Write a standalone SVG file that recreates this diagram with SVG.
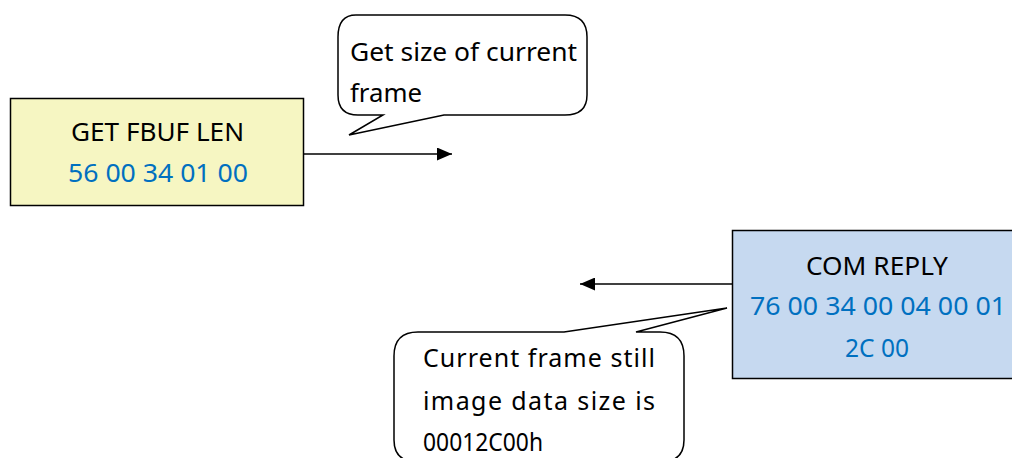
<svg xmlns="http://www.w3.org/2000/svg" width="1012" height="458" viewBox="0 0 1012 458">
<style>
.t{font-family:"Noto Sans","Open Sans","Liberation Sans",sans-serif;font-size:25px;fill:#000}
.b{fill:#0070c0}
.box{stroke:#000;stroke-width:1.5}
.call{fill:#fff;stroke:#000;stroke-width:1.5}
.ln{stroke:#000;stroke-width:1.5;fill:none}
</style>
<defs>
<marker id="ah" markerWidth="15" markerHeight="13" refX="15" refY="6.5" orient="auto" markerUnits="userSpaceOnUse" viewBox="0 0 15 13">
<path d="M0,0 L15,6.5 L0,13 Z" fill="#000"/>
</marker>
<clipPath id="c1"><rect x="335" y="10" width="260" height="94"/></clipPath>
</defs>
<rect width="1012" height="458" fill="#fff"/>
<g id="connectors">
<line class="ln" x1="304" y1="154" x2="452" y2="154" marker-end="url(#ah)"/>
<line class="ln" x1="732" y1="284" x2="580" y2="284" marker-end="url(#ah)"/>
</g>
<g id="get-fbuf-len">
<rect class="box" x="10.5" y="98.5" width="293" height="107" fill="#f6f6c2"/>
<text class="t" x="157.5" y="141" text-anchor="middle" textLength="173" lengthAdjust="spacingAndGlyphs">GET FBUF LEN</text>
<text class="t b" x="158" y="182" text-anchor="middle" textLength="180" lengthAdjust="spacingAndGlyphs">56 00 34 01 00</text>
</g>
<g id="callout-top">
<path class="call" d="M356,15 L565,15 Q587,15 587,37 L587,95 Q587,115 565,115 L444,115 L349,135 L383,115 L358,115 Q338,115 338,95 L338,37 Q338,15 356,15 Z"/>
<g clip-path="url(#c1)">
<text class="t" x="350" y="61" textLength="227" lengthAdjust="spacingAndGlyphs">Get size of current</text>
<text class="t" x="350" y="102" textLength="72" lengthAdjust="spacingAndGlyphs">frame</text>
</g>
</g>
<g id="com-reply">
<rect class="box" x="732.5" y="230.5" width="290" height="148" fill="#c6d9f0"/>
<text class="t" x="877" y="275" text-anchor="middle" textLength="142" lengthAdjust="spacingAndGlyphs">COM REPLY</text>
<text class="t b" x="878" y="315" text-anchor="middle" textLength="256" lengthAdjust="spacingAndGlyphs">76 00 34 00 04 00 01</text>
<text class="t b" x="877" y="357" text-anchor="middle" textLength="64" lengthAdjust="spacingAndGlyphs">2C 00</text>
</g>
<g id="callout-bottom">
<path class="call" d="M418,332 L564,332 L727,308 L636,332 L660,332 Q684,332 684,356 L684,440 Q684,462 660,462 L418,462 Q394,462 394,440 L394,356 Q394,332 418,332 Z"/>
<text class="t" x="423" y="367" textLength="232" lengthAdjust="spacing">Current frame still</text>
<text class="t" x="423" y="410" textLength="232" lengthAdjust="spacing">image data size is</text>
<text class="t" x="423" y="451" textLength="120" lengthAdjust="spacingAndGlyphs">00012C00h</text>
</g>
</svg>
